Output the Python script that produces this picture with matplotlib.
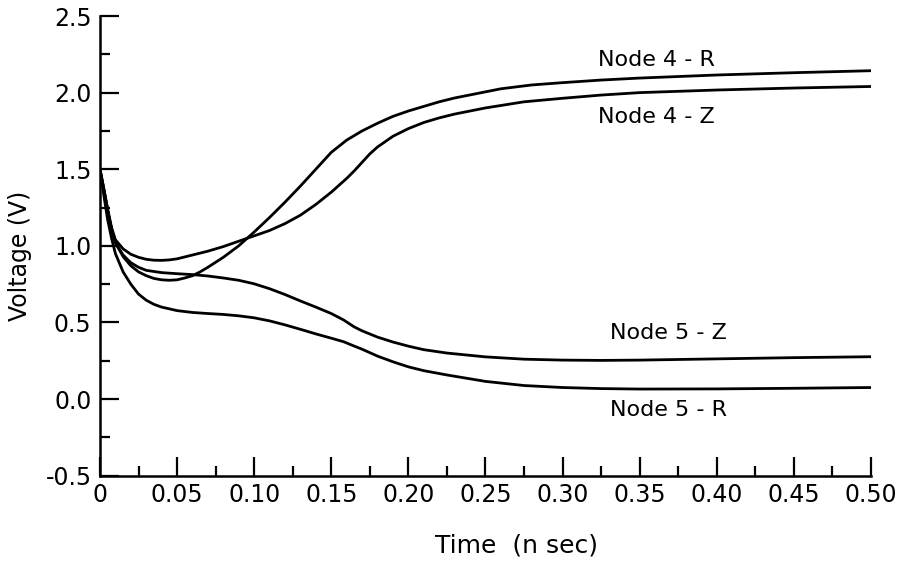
import matplotlib
matplotlib.use("Agg")
import matplotlib.pyplot as plt
from matplotlib.ticker import MultipleLocator

# 讀圖估計的數據 (Time in n sec, Voltage in V)
t_4z = [0, 0.0025, 0.005, 0.0075, 0.01, 0.015, 0.02, 0.025, 0.03, 0.035, 0.04, 0.045, 0.05,
        0.06, 0.07, 0.08, 0.09, 0.1, 0.11, 0.12, 0.13, 0.14, 0.15, 0.16, 0.165, 0.17, 0.175,
        0.18, 0.19, 0.2, 0.21, 0.22, 0.23, 0.25, 0.275, 0.3, 0.325, 0.35, 0.4, 0.45, 0.5]
v_4z = [1.5, 1.37, 1.24, 1.12, 1.04, 0.98, 0.945, 0.925, 0.912, 0.906, 0.905, 0.908, 0.915,
        0.94, 0.965, 0.995, 1.03, 1.065, 1.1, 1.145, 1.2, 1.27, 1.35, 1.44, 1.49, 1.545, 1.6,
        1.645, 1.715, 1.765, 1.805, 1.835, 1.86, 1.9, 1.94, 1.963, 1.984, 2.0, 2.017, 2.03, 2.04]

t_4r = [0, 0.0025, 0.005, 0.0075, 0.01, 0.015, 0.02, 0.025, 0.03, 0.035, 0.04, 0.045, 0.05,
        0.055, 0.06, 0.065, 0.07, 0.08, 0.09, 0.1, 0.11, 0.12, 0.13, 0.14, 0.15, 0.16, 0.17,
        0.18, 0.19, 0.2, 0.21, 0.22, 0.23, 0.245, 0.26, 0.28, 0.3, 0.325, 0.35, 0.4, 0.45, 0.5]
v_4r = [1.5, 1.37, 1.23, 1.11, 1.02, 0.93, 0.87, 0.83, 0.805, 0.787, 0.778, 0.775, 0.778,
        0.79, 0.805, 0.83, 0.86, 0.925, 1.0, 1.09, 1.185, 1.285, 1.39, 1.5, 1.61, 1.69, 1.75,
        1.8, 1.845, 1.88, 1.91, 1.94, 1.965, 1.995, 2.025, 2.05, 2.065, 2.082, 2.095, 2.115, 2.13, 2.143]

t_5z = [0, 0.0025, 0.005, 0.0075, 0.01, 0.015, 0.02, 0.025, 0.03, 0.04, 0.05, 0.06, 0.07,
        0.08, 0.09, 0.1, 0.11, 0.12, 0.13, 0.14, 0.15, 0.158, 0.165, 0.17, 0.18, 0.19, 0.2,
        0.21, 0.225, 0.25, 0.275, 0.3, 0.325, 0.35, 0.4, 0.45, 0.5]
v_5z = [1.5, 1.37, 1.23, 1.11, 1.02, 0.94, 0.89, 0.86, 0.84, 0.825, 0.818, 0.812, 0.803,
        0.79, 0.775, 0.752, 0.72, 0.682, 0.64, 0.6, 0.558, 0.516, 0.47, 0.445, 0.404, 0.372, 0.345,
        0.322, 0.3, 0.275, 0.26, 0.254, 0.252, 0.254, 0.262, 0.27, 0.276]

t_5r = [0, 0.0025, 0.005, 0.0075, 0.01, 0.015, 0.02, 0.025, 0.03, 0.035, 0.04, 0.05, 0.06,
        0.07, 0.08, 0.09, 0.1, 0.11, 0.12, 0.13, 0.14, 0.15, 0.158, 0.165, 0.17, 0.18, 0.19,
        0.2, 0.21, 0.225, 0.25, 0.275, 0.3, 0.325, 0.35, 0.4, 0.45, 0.5]
v_5r = [1.5, 1.33, 1.17, 1.05, 0.95, 0.83, 0.75, 0.685, 0.645, 0.618, 0.6, 0.577, 0.565,
        0.558, 0.552, 0.543, 0.53, 0.51, 0.484, 0.455, 0.425, 0.397, 0.374, 0.345, 0.325, 0.28, 0.243,
        0.21, 0.185, 0.157, 0.115, 0.088, 0.075, 0.068, 0.065, 0.066, 0.07, 0.075]

x_ticks = [0, 0.05, 0.10, 0.15, 0.20, 0.25, 0.30, 0.35, 0.40, 0.45, 0.50]
x_tick_labels = ["0", "0.05", "0.10", "0.15", "0.20", "0.25", "0.30", "0.35", "0.40", "0.45", "0.50"]
y_ticks = [-0.5, 0.0, 0.5, 1.0, 1.5, 2.0, 2.5]
y_tick_labels = ["-0.5", "0.0", "0.5", "1.0", "1.5", "2.0", "2.5"]

# 曲線標籤: (文字, x, y)
labels = [("Node 4 - R", 0.3227, 2.21), ("Node 4 - Z", 0.3227, 1.84),
          ("Node 5 - Z", 0.331, 0.43), ("Node 5 - R", 0.331, -0.07)]

plt.rcParams["font.family"] = ["DejaVu Sans"]

fig = plt.figure(figsize=(9.12, 5.66), dpi=100)
ax = fig.add_axes([0.1096, 0.1597, 0.8454, 0.812])

for t, v in [(t_4z, v_4z), (t_4r, v_4r), (t_5z, v_5z), (t_5r, v_5r)]:
    ax.plot(t, v, color="black", lw=2.0, solid_joinstyle="round", solid_capstyle="round")

for text, x, y in labels:
    ax.text(x, y, text, fontsize=16, ha="left", va="center")

ax.set_xlim(0, 0.5)
ax.set_ylim(-0.5, 2.5)
ax.set_xticks(x_ticks)
ax.set_xticklabels(x_tick_labels)
ax.set_yticks(y_ticks)
ax.set_yticklabels(y_tick_labels)
ax.xaxis.set_minor_locator(MultipleLocator(0.025))
ax.yaxis.set_minor_locator(MultipleLocator(0.25))

ax.tick_params(which="major", direction="in", length=14, width=1.6, labelsize=17)
ax.tick_params(which="minor", direction="in", length=7, width=1.6)
ax.tick_params(axis="y", which="major", pad=6)
ax.tick_params(axis="x", which="major", pad=5)

for side in ["top", "right"]:
    ax.spines[side].set_visible(False)
for side in ["left", "bottom"]:
    ax.spines[side].set_linewidth(1.8)

ax.set_xlabel("Time  (n sec)", fontsize=18)
ax.xaxis.set_label_coords(0.54, -0.125)
ax.set_ylabel("Voltage (V)", fontsize=17)
ax.yaxis.set_label_coords(-0.088, 0.478)

fig.savefig("out.png", dpi=100)
